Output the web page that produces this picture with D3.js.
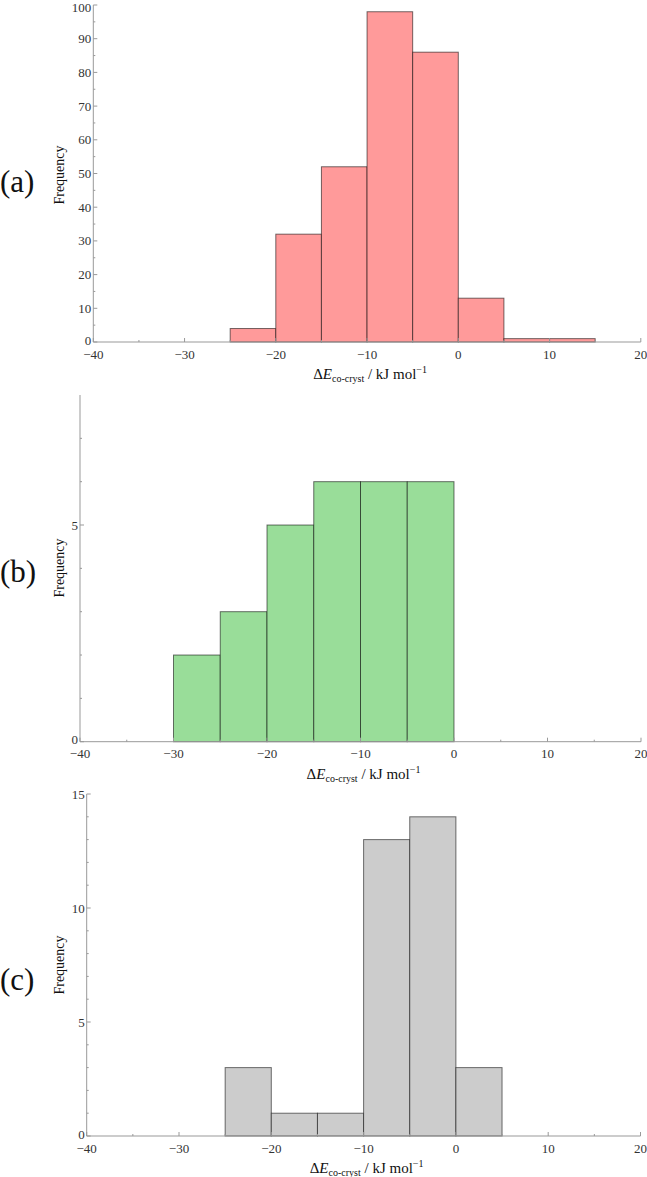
<!DOCTYPE html>
<html><head><meta charset="utf-8">
<script src="https://cdn.jsdelivr.net/npm/d3@7"></script>
<style>
html,body{margin:0;padding:0;background:#fff;}
svg{display:block;}
</style></head>
<body>
<script>
// Data
const binWidth = 5;
const binStartsA = [-25, -20, -15, -10, -5, 0, 5, 10];
const countsA    = [4, 32, 52, 98, 86, 13, 1, 1];
const binStartsB = [-30, -25, -20, -15, -10, -5];
const countsB    = [2, 3, 5, 6, 6, 6];
const binStartsC = [-25, -20, -15, -10, -5, 0];
const countsC    = [3, 1, 1, 13, 14, 3];
const xMajorTicks = [-40, -30, -20, -10, 0, 10, 20];
const xMinorTicks = [-35, -25, -15, -5, 5, 15];
const yMajorA = [0,10,20,30,40,50,60,70,80,90,100];
const yMinorA = [5,15,25,35,45,55,65,75,85,95];
const yMajorB = [0,5];
const yMinorB = [1,2,3,4,6,7];
const yMajorC = [0,5,10,15];
const yMinorC = [1,2,3,4,6,7,8,9,11,12,13,14];
const panelLabels = ["(a)","(b)","(c)"];

const W = 647, H = 1177;
const FONT = "'Liberation Serif', 'DejaVu Serif', 'Times New Roman', serif";
const svg = d3.select("body").append("svg").attr("width", W).attr("height", H)
  .attr("font-family", FONT).style("font-family", FONT);

const panels = [
  {label:panelLabels[0], starts:binStartsA, counts:countsA, yMax:100, yMaj:yMajorA, yMin:yMinorA,
   x0:93.3, x1:640.8, yb:342, yt:5, fill:"#ff9a9a", labY:182, freqY:175},
  {label:panelLabels[1], starts:binStartsB, counts:countsB, yMax:8, yMaj:yMajorB, yMin:yMinorB,
   x0:80, x1:641, yb:741.7, yt:395, fill:"#99dd99", labY:572, freqY:568},
  {label:panelLabels[2], starts:binStartsC, counts:countsC, yMax:15, yMaj:yMajorC, yMin:yMinorC,
   x0:86.7, x1:640.5, yb:1136, yt:794, fill:"#cccccc", labY:980, freqY:965}
];

const axisColor = "#999";
const textColor = "#333";

panels.forEach(p => {
  const g = svg.append("g");
  const x = d3.scaleLinear().domain([-40, 20]).range([p.x0, p.x1]);
  const y = d3.scaleLinear().domain([0, p.yMax]).range([p.yb, p.yt]);

  // bars
  const data = p.starts.map((s,i)=>({s, c:p.counts[i]}));
  g.selectAll("rect.bar").data(data).join("rect")
    .attr("class","bar")
    .attr("x", d => x(d.s))
    .attr("width", d => x(d.s + binWidth) - x(d.s))
    .attr("y", d => y(d.c))
    .attr("height", d => y(0) - y(d.c))
    .attr("fill", p.fill)
    .attr("stroke", "rgba(0,0,0,0.55)")
    .attr("stroke-width", 1);

  // axis lines
  g.append("line").attr("x1", x(-40)).attr("x2", x(20)).attr("y1", y(0)).attr("y2", y(0))
    .attr("stroke", axisColor).attr("stroke-width", 1);
  g.append("line").attr("x1", x(-40)).attr("x2", x(-40)).attr("y1", y(0)).attr("y2", y(p.yMax))
    .attr("stroke", axisColor).attr("stroke-width", 1);

  // x ticks (inside)
  g.selectAll("line.xmaj").data(xMajorTicks).join("line")
    .attr("x1", d=>x(d)).attr("x2", d=>x(d)).attr("y1", y(0)).attr("y2", y(0)-4)
    .attr("stroke", axisColor);
  g.selectAll("line.xmin").data(xMinorTicks).join("line")
    .attr("x1", d=>x(d)).attr("x2", d=>x(d)).attr("y1", y(0)).attr("y2", y(0)-2)
    .attr("stroke", axisColor);
  g.selectAll("text.xt").data(xMajorTicks).join("text")
    .attr("x", d=>x(d)).attr("y", y(0)+16.5)
    .attr("text-anchor","middle").attr("font-size", 13).attr("fill", textColor)
    .text(d => d < 0 ? "\u2212" + Math.abs(d) : String(d));

  // y ticks
  g.selectAll("line.ymaj").data(p.yMaj).join("line")
    .attr("x1", x(-40)).attr("x2", x(-40)+4).attr("y1", d=>y(d)).attr("y2", d=>y(d))
    .attr("stroke", axisColor);
  g.selectAll("line.ymin").data(p.yMin).join("line")
    .attr("x1", x(-40)).attr("x2", x(-40)+2).attr("y1", d=>y(d)).attr("y2", d=>y(d))
    .attr("stroke", axisColor);
  g.selectAll("text.yt").data(p.yMaj).join("text")
    .attr("x", x(-40)-2).attr("y", d => d === 0 ? y(d)+2.5 : Math.max(y(d)+4.5, 11.5))
    .attr("text-anchor","end").attr("font-size", 13).attr("fill", textColor)
    .text(d => String(d));

  // x label
  const xl = g.append("text").attr("x", (p.x0+p.x1)/2 + 3).attr("y", y(0)+37)
    .attr("text-anchor","middle").attr("font-size", 15).attr("fill", "#111");
  xl.append("tspan").text("\u0394");
  xl.append("tspan").attr("font-style","italic").text("E");
  xl.append("tspan").attr("font-size", 10).attr("dy", 3).text("co-cryst");
  xl.append("tspan").attr("dy", -3).text(" / kJ mol");
  xl.append("tspan").attr("font-size", 10).attr("dy", -6).text("\u22121");

  // y label
  g.append("text").attr("transform", `translate(${64},${p.freqY}) rotate(-90)`)
    .attr("text-anchor","middle").attr("font-size", 14).attr("fill", "#111")
    .text("Frequency");

  // panel label
  g.append("text").attr("x", 0).attr("y", p.labY + 10)
    .attr("font-size", 31).attr("fill", "#111")
    .text(p.label);
});
</script>
</body></html>
